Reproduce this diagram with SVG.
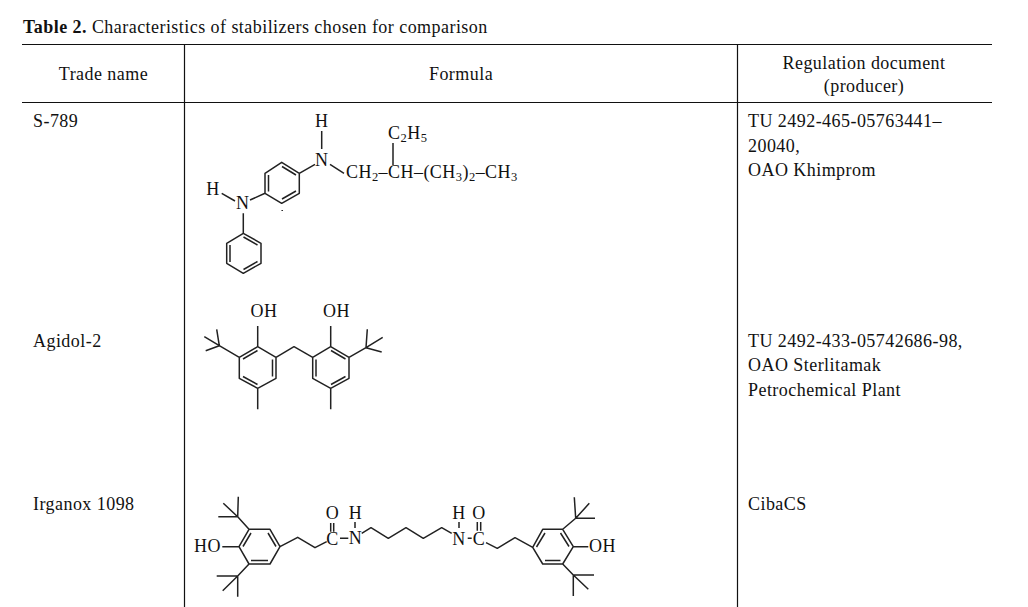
<svg xmlns="http://www.w3.org/2000/svg" width="1028" height="607" viewBox="0 0 1028 607">
<style>
text{font-family:"Liberation Serif","Times New Roman",serif;font-size:18px;letter-spacing:.45px;fill:#111}
.c{text-anchor:middle}
.sub{font-size:12.500px}
.b{fill:none;stroke:#222;stroke-width:1.5;stroke-linejoin:round}
.t{fill:none;stroke:#111;stroke-width:1.2}
</style>
<rect width="1028" height="607" fill="#fff"/>
<g id="table">
<path class="t" d="M22 44.500H992M22 102.500H992M184.500 44V607M737.500 44V607"/>
<text x="23" y="33"><tspan font-weight="bold">Table 2.</tspan> Characteristics of stabilizers chosen for comparison</text>
<text class="c" x="103.500" y="80">Trade name</text>
<text class="c" x="461" y="80">Formula</text>
<text class="c" x="864" y="69">Regulation document</text>
<text class="c" x="864" y="92">(producer)</text>
</g>
<g id="s789">
<text x="33" y="127">S-789</text>
<text x="748" y="127">TU 2492-465-05763441–</text>
<text x="748" y="151.500">20040,</text>
<text x="748" y="176">OAO Khimprom</text>
<path class="b" d="M281.700 162.300 299.300 173.300V193.300L281.700 203.300 265 193.300V173.300ZM268.500 175V191.500M282 166.500 296 175M282 199 296 191M321.700 131V149M299.300 173.300 315 164.300M330 164.300 344 173.300M393 143V165M221.700 193.300 235 201M250 200 265 193.300M243.300 213.300V233.300M243.300 233.300 261 243.300V263.300L243.300 273.300 226.700 263.300V243.300ZM230 245V262M243.500 237 257.500 245M243.500 269.500 257.500 261.500M282.200 210V211"/>
<text class="c" x="321.700" y="127">H</text>
<text class="c" x="321.700" y="166">N</text>
<text class="c" x="213" y="195">H</text>
<text class="c" x="242.700" y="209">N</text>
<text x="388" y="139">C<tspan class="sub" dy="3">2</tspan><tspan dy="-3">H</tspan><tspan class="sub" dy="3">5</tspan></text>
<text x="346" y="178">CH<tspan class="sub" dy="3">2</tspan><tspan dy="-3">–CH–(CH</tspan><tspan class="sub" dy="3">3</tspan><tspan dy="-3">)</tspan><tspan class="sub" dy="3">2</tspan><tspan dy="-3">–CH</tspan><tspan class="sub" dy="3">3</tspan></text>
</g>
<g id="agidol">
<text x="33" y="347">Agidol-2</text>
<text x="748" y="347">TU 2492-433-05742686-98,</text>
<text x="748" y="371">OAO Sterlitamak</text>
<text x="748" y="396">Petrochemical Plant</text>
<path class="b" d="M257.700 346.700 276 357.300V378.300L257.700 388.300 239.300 378.300V357.300ZM243 359 257.500 350.500M243 376.500 257.500 384.500M272.500 359.500V376.500M257.700 326V346.700M257.700 388.300V409.300M239.300 357.300 219.300 345.700M204.300 336.700 219.300 345.700M216.700 329.300 219.300 345.700M205.700 350.700 219.300 345.700M276 357.300 294 346.700 312.700 357.300M330.700 346.700 349 357.300V378.300L330.700 388.300 312.700 378.300V357.300ZM316 359.500V376.500M331 350.500 345.500 359M331 384.500 345.500 376.500M330.700 326V346.700M330.700 388.300V409.300M349 357.300 366 347.700M382.700 337.300 366 347.700M367.300 329.300 366 347.700M381.700 352 366 347.700"/>
<text x="250.500" y="317">OH</text>
<text x="323" y="317">OH</text>
</g>
<g id="irganox">
<text x="33" y="510">Irganox 1098</text>
<text x="748" y="510">CibaCS</text>
<path class="b" d="M239 546.700 249 529.300H270L280 546.700 270 564H249ZM243 546.500 251 533M268 533 276 546.500M251 560.500H268M222.300 546.700H239M249 529.300 237.700 516.700M223.300 503.300 237.700 516.700M238.300 496.700 237.700 516.700M218.300 516.700H237.700M249 564 237.700 576M216.700 576H237.700M222.700 590.700 237.700 576M237.700 596.700V576M280 546.700 297.700 537.300 315 547.700 326.700 541.700M330.700 523V531.700M333.700 523V531.700M340 538.300H348.300M355 522V528M361.700 533.300 371 527.700 388.300 538.300 406 527.700 423.300 538.300 441.700 527.700 451.700 533.300M459 522V528M467.700 538.300H471.700M477.300 522V530.700M480.700 522V530.700M486 542.700 497.300 548.300 515 537.700 532.700 547.300M532.700 547.300 542.700 529.300H562.700L573.300 546.700 562.700 564H542.700ZM536.500 547 545 533M560.500 533 569 546.500M545 560.500H560.500M573.300 546.700H588.300M562.700 529.300 575.700 518.300M574.300 497.300 575.700 518.300M589.300 503.300 575.700 518.300M595 518.300H575.700M562.700 564 573.300 575M594 575H573.300M588.300 589.300 573.300 575M573.300 596V575"/>
<text x="194" y="552">HO</text>
<text x="589" y="552">OH</text>
<text class="c" x="332.500" y="519">O</text>
<text class="c" x="332.500" y="545">C</text>
<text class="c" x="355.500" y="519">H</text>
<text class="c" x="355.500" y="544">N</text>
<text class="c" x="459" y="519">H</text>
<text class="c" x="459" y="545">N</text>
<text class="c" x="479" y="519">O</text>
<text class="c" x="479" y="545">C</text>
</g>
</svg>
